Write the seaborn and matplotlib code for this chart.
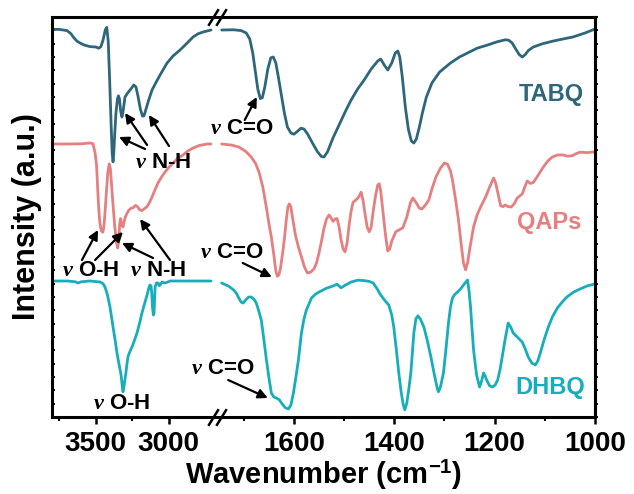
import numpy as np
import pandas as pd
import matplotlib
matplotlib.use("Agg")
import matplotlib.pyplot as plt
from matplotlib.path import Path
from matplotlib.transforms import blended_transform_factory
from matplotlib.ticker import NullFormatter
import seaborn as sns

# ---------------- data ----------------
SAMPLES = ["TABQ", "QAPs", "DHBQ"]
COLORS = ["#2E667A", "#E67F80", "#17AEBB"]

TABQ_WN = [3800, 3750, 3697, 3670, 3650, 3630, 3608, 3580, 3540, 3500, 3480, 3465,
           3450, 3435, 3425, 3415, 3405, 3395, 3388, 3382, 3377, 3370, 3362, 3352,
           3345, 3338, 3330, 3321, 3313, 3300, 3282, 3260, 3240, 3225, 3210, 3195,
           3180, 3170, 3160, 3140, 3115, 3090, 3060, 3012, 2970, 2923, 2880, 2834,
           2800, 2766, 2711,
           1744, 1720, 1705, 1695, 1688, 1682, 1677, 1672, 1667, 1663, 1658, 1652,
           1646, 1641, 1636, 1631, 1625, 1619, 1613, 1606, 1600, 1594, 1586, 1580,
           1573, 1563, 1553, 1545, 1540, 1533, 1522, 1510, 1497, 1486, 1473, 1460,
           1446, 1433, 1427, 1420, 1413, 1405, 1398, 1393, 1389, 1384, 1378, 1372,
           1366, 1361, 1356, 1350, 1344, 1336, 1325, 1310, 1288, 1270, 1254, 1235,
           1214, 1195, 1179, 1172, 1165, 1158, 1151, 1145, 1139, 1133, 1123, 1105,
           1083, 1060, 1044, 1020, 1000]
TABQ_I = [96.9, 96.9, 96.6, 95.8, 94.8, 94.0, 93.5, 93.0, 92.6, 92.5, 92.2, 92.6,
          94.3, 96.8, 97.4, 94.0, 84.0, 73.0, 66.0, 63.8, 66.0, 71.0, 76.0, 79.5,
          80.3, 79.5, 76.5, 75.0, 76.5, 80.0, 81.0, 82.0, 83.0, 82.5, 80.0, 77.0,
          75.2, 75.3, 76.5, 79.0, 81.75, 83.5, 85.5, 88.5, 90.3, 91.75, 93.3, 95.0,
          95.8, 96.25, 96.75,
          96.75, 96.8, 96.6, 96.0, 94.5, 91.0, 86.5, 82.0, 79.6, 79.8, 82.5, 87.0,
          89.8, 90.0, 88.5, 85.0, 80.5, 76.0, 72.5, 71.0, 70.7, 71.3, 72.2, 72.0,
          70.8, 68.5, 66.3, 65.1, 65.0, 66.3, 69.8, 73.0, 76.5, 79.25, 82.0, 84.25,
          87.0, 89.0, 89.5, 88.0, 86.75, 88.5, 91.0, 91.5, 90.0, 85.0, 77.5, 72.0,
          69.0, 68.5, 69.5, 72.5, 76.0, 80.0, 83.5, 86.2, 88.5, 90.0, 91.0, 92.2,
          93.0, 93.8, 94.3, 94.2, 93.5, 92.0, 90.6, 90.0, 90.6, 91.6, 92.5, 93.3,
          94.0, 94.6, 95.0, 96.0, 97.0]

QAPS_WN = [3800, 3700, 3600, 3540, 3519, 3505, 3495, 3487, 3480, 3472, 3462, 3452,
           3445, 3437, 3428, 3418, 3408, 3400, 3392, 3382, 3370, 3358, 3350, 3343,
           3336, 3330, 3323, 3314, 3306, 3298, 3285, 3273, 3258, 3245, 3228, 3215,
           3200, 3184, 3170, 3160, 3149, 3130, 3115, 3095, 3074, 3050, 3026, 3000,
           2971, 2940, 2903, 2870, 2834, 2790, 2738, 2711,
           1744, 1725, 1710, 1697, 1685, 1676, 1669, 1662, 1655, 1650, 1645, 1640,
           1636, 1633, 1630, 1627, 1623, 1619, 1615, 1612, 1609, 1606, 1603, 1597,
           1591, 1585, 1579, 1573, 1567, 1560, 1555, 1550, 1545, 1540, 1535, 1530,
           1526, 1522, 1518, 1514, 1510, 1506, 1502, 1498, 1494, 1490, 1486, 1482,
           1476, 1471, 1466, 1462, 1458, 1454, 1450, 1446, 1442, 1437, 1433, 1430,
           1427, 1424, 1421, 1417, 1413, 1409, 1405, 1397, 1390, 1383, 1375, 1368,
           1363, 1356, 1350, 1345, 1338, 1331, 1325, 1317, 1308, 1300, 1294, 1288,
           1284, 1278, 1272, 1267, 1262, 1258, 1254, 1250, 1242, 1235, 1228, 1218,
           1210, 1202, 1198, 1194, 1188, 1183, 1179, 1173, 1167, 1161, 1155, 1145,
           1140, 1135, 1129, 1123, 1113, 1103, 1094, 1085, 1075, 1063, 1055, 1046,
           1038, 1030, 1015, 1000]
QAPS_I = [68.25, 68.25, 68.3, 68.5, 68.3, 66.0, 63.0, 57.0, 52.0, 48.5, 46.5, 46.2,
          47.5, 51.0, 56.0, 61.0, 63.3, 62.0, 58.0, 53.0, 47.5, 43.5, 42.25, 44.0,
          48.5, 49.6, 48.2, 47.5, 48.8, 50.0, 51.0, 51.75, 52.2, 52.3, 52.9, 52.6,
          51.8, 51.6, 52.0, 52.3, 52.6, 53.8, 55.0, 56.8, 58.5, 60.0, 61.25, 62.4,
          63.5, 64.6, 65.5, 66.5, 67.25, 67.9, 68.25, 68.25,
          68.25, 68.0, 67.5, 66.5, 65.0, 63.3, 61.0, 57.5, 52.5, 48.5, 45.0, 40.5,
          36.5, 35.2, 35.5, 37.0, 40.5, 44.5, 49.5, 52.5, 53.3, 52.5, 50.0, 45.5,
          42.5, 40.0, 37.5, 36.0, 36.2, 37.0, 38.5, 41.0, 44.0, 47.25, 49.5, 50.5,
          49.8, 48.9, 49.5, 49.6, 47.5, 44.3, 42.0, 41.3, 43.5, 48.0, 51.5, 53.7,
          54.3, 55.0, 56.2, 54.0, 50.5, 47.5, 46.3, 47.5, 51.5, 55.5, 58.0, 58.3,
          56.5, 53.0, 49.5, 45.0, 41.5, 42.0, 44.0, 46.3, 46.8, 47.3, 50.0, 53.5,
          54.75, 53.5, 52.2, 52.0, 53.0, 54.3, 57.0, 60.0, 62.2, 63.5, 63.2, 61.5,
          59.2, 54.5, 49.25, 43.5, 38.5, 36.8, 38.5, 41.75, 47.5, 50.5, 52.5, 55.0,
          57.5, 59.75, 58.5, 56.25, 52.8, 52.6, 53.0, 52.6, 52.5, 53.3, 54.75, 55.75,
          57.5, 59.0, 58.4, 58.6, 60.5, 62.5, 64.0, 65.0, 65.5, 65.5, 65.2, 65.3,
          65.8, 66.2, 66.1, 66.3]

DHBQ_WN = [3800, 3697, 3640, 3622, 3600, 3540, 3471, 3450, 3437, 3420, 3403, 3382,
           3368, 3355, 3340, 3327, 3318, 3314, 3308, 3300, 3293, 3286, 3279, 3265,
           3252, 3235, 3218, 3200, 3184, 3165, 3149, 3135, 3129, 3122, 3117, 3112,
           3106, 3101, 3097, 3094, 3085, 3074, 3065, 3060, 3047, 3030, 3010, 2992,
           2900, 2800, 2711,
           1744, 1730, 1720, 1714, 1710, 1705, 1701, 1696, 1690, 1685, 1680, 1675,
           1670, 1665, 1660, 1655, 1650, 1645, 1640, 1635, 1629, 1623, 1617, 1611,
           1606, 1601, 1596, 1591, 1585, 1580, 1575, 1565, 1557, 1549, 1535, 1522,
           1514, 1506, 1497, 1486, 1473, 1460, 1450, 1442, 1435, 1427, 1418, 1411,
           1405, 1401, 1396, 1391, 1386, 1382, 1379, 1375, 1371, 1367, 1364, 1361,
           1357, 1353, 1348, 1341, 1334, 1327, 1320, 1314, 1312, 1308, 1302, 1297,
           1292, 1288, 1284, 1279, 1274, 1268, 1262, 1257, 1254, 1251, 1248, 1245,
           1242, 1236, 1230, 1226, 1222, 1219, 1216, 1210, 1204, 1199, 1194, 1189,
           1185, 1179, 1173, 1168, 1163, 1155, 1145, 1139, 1133, 1126, 1119, 1114,
           1109, 1101, 1093, 1085, 1075, 1065, 1056, 1043, 1030, 1015, 1000]
DHBQ_I = [34.0, 34.0, 33.8, 33.5, 33.8, 34.0, 33.75, 33.3, 32.5, 30.5, 27.5, 22.5,
          19.3, 16.0, 13.0, 10.5, 7.5, 6.3, 7.5, 9.5, 11.3, 13.5, 15.2, 16.5,
          17.5, 19.2, 21.0, 23.5, 26.0, 28.5, 30.5, 32.5, 33.0, 32.8, 31.0, 27.5,
          25.5, 26.0, 30.0, 32.5, 33.5, 33.5, 32.8, 33.0, 33.75, 33.5, 33.7, 34.0,
          34.0, 34.0, 34.0,
          33.5, 32.7, 31.75, 30.8, 29.75, 28.7, 28.5, 29.3, 30.0, 30.0, 29.5, 28.5,
          26.5, 24.25, 19.5, 14.5, 10.0, 6.0, 5.0, 4.75, 4.3, 3.2, 2.3, 2.0,
          3.0, 6.0, 10.0, 14.25, 21.0, 24.5, 26.8, 29.75, 30.7, 31.3, 32.2, 32.75,
          33.2, 32.3, 33.0, 33.75, 34.2, 34.1, 33.9, 33.5, 32.2, 30.5, 29.0, 28.0,
          25.5, 22.5, 17.0, 11.0, 6.0, 3.0, 1.8, 3.5, 7.0, 11.0, 16.0, 21.0,
          24.5, 25.3, 24.5, 22.5, 19.0, 15.0, 10.5, 7.0, 6.3, 7.5, 11.0, 17.0,
          23.5, 27.5, 29.75, 30.7, 31.25, 32.0, 33.0, 33.8, 34.25, 31.5, 27.5, 22.0,
          16.75, 10.5, 7.5, 9.0, 11.0, 10.3, 9.25, 7.8, 7.5, 8.0, 9.25, 12.0,
          15.0, 19.5, 23.5, 22.5, 21.0, 20.0, 18.75, 17.0, 15.0, 13.5, 13.0, 14.0,
          16.0, 19.5, 22.5, 25.0, 27.25, 28.8, 30.0, 31.2, 32.0, 32.8, 33.25]

XTICKS = [3500, 3000, 1600, 1400, 1200, 1000]
XTICK_LABELS = ["3500", "3000", "1600", "1400", "1200", "1000"]
XMINOR = [3750, 3250, 1700, 1500, 1300, 1100]

LABEL_POS = [(1088, 80.5), (1092, 48.75), (1090, 7.5)]

ANNOT_TEXT = [r"$\nu$ N-H", r"$\nu$ C=O", r"$\nu$ O-H", r"$\nu$ N-H",
              r"$\nu$ C=O", r"$\nu$ O-H", r"$\nu$ C=O"]
ANNOT_POS = [(3040, 63.5), (1703, 72.25), (3533, 36.75), (3077, 36.75),
             (1724, 41.25), (3321, 3.5), (1742, 12.25)]
ARROWS = [((3163, 67.0), (3341, 70.0)),
          ((3149, 68.0), (3300, 76.0)),
          ((2999, 67.75), (3136, 75.5)),
          ((1698, 74.25), (1674, 80.0)),
          ((3595, 39.25), (3485, 46.75)),
          ((3505, 39.25), (3314, 46.25)),
          ((3108, 39.75), (3321, 43.5)),
          ((2992, 39.25), (3197, 49.5)),
          ((1702, 38.5), (1644, 35.0)),
          ((1731, 9.25), (1652, 4.75))]

# ---------------- broken-axis scale ----------------
K_LO, K_HI, GAP = 0.5017, 0.146, 6.0
LO_END = (1750 - 1000) * K_LO
HI_START = LO_END + GAP


def fwd(x):
    x = np.asarray(x, dtype=float)
    return np.where(x <= 1750, (x - 1000) * K_LO,
                    np.where(x >= 2700, HI_START + (x - 2700) * K_HI,
                             LO_END + (x - 1750) * GAP / 950.0))


def inv(p):
    p = np.asarray(p, dtype=float)
    return np.where(p <= LO_END, 1000 + p / K_LO,
                    np.where(p >= HI_START, 2700 + (p - HI_START) / K_HI,
                             1750 + (p - LO_END) * 950.0 / GAP))


# ---------------- build data frame ----------------
frames = []
for name, wn, inten in [("TABQ", TABQ_WN, TABQ_I), ("QAPs", QAPS_WN, QAPS_I),
                        ("DHBQ", DHBQ_WN, DHBQ_I)]:
    d = pd.DataFrame({"wn": wn, "I": inten})
    d["sample"] = name
    d["seg"] = np.where(d["wn"] > 2200, "hi", "lo")
    frames.append(d)
df = pd.concat(frames, ignore_index=True)

# ---------------- style ----------------
sns.set_style("ticks")
plt.rcParams["font.family"] = ["Liberation Sans", "DejaVu Sans"]
plt.rcParams["font.weight"] = "bold"
plt.rcParams["mathtext.fontset"] = "custom"
plt.rcParams["mathtext.rm"] = "Liberation Sans"
plt.rcParams["mathtext.bf"] = "Liberation Sans:bold"
plt.rcParams["mathtext.it"] = "Liberation Serif:italic"
for key in ["text.color", "axes.labelcolor", "xtick.color", "ytick.color",
            "axes.edgecolor"]:
    plt.rcParams[key] = "black"

fig = plt.figure(figsize=(6.34, 4.94), dpi=100)
ax = fig.add_axes([52 / 634, 1 - 417 / 494, 543 / 634, 400 / 494])
ax.set_xscale("function", functions=(fwd, inv))

sns.lineplot(data=df, x="wn", y="I", hue="sample", units="seg", estimator=None,
             sort=False, palette=dict(zip(SAMPLES, COLORS)), hue_order=SAMPLES,
             legend=False, lw=2.0, solid_joinstyle="round",
             solid_capstyle="round", ax=ax)

ax.set_xlim(3800, 1000)
ax.set_ylim(0, 100)

ax.set_xticks(XTICKS)
ax.set_xticklabels(XTICK_LABELS)
ax.set_xticks(XMINOR, minor=True)
ax.xaxis.set_minor_formatter(NullFormatter())
ax.tick_params(axis="x", which="major", direction="out", length=5, width=1.8,
               labelsize=20, pad=5, color="black", labelcolor="black")
ax.tick_params(axis="x", which="minor", direction="out", length=3, width=1.5,
               color="black")

yt = np.linspace(0, 100, 31)
ax.set_yticks(yt)
ax.yaxis.set_major_formatter(NullFormatter())
ax.tick_params(axis="y", which="major", direction="in", length=2.5, width=1.3,
               color="black")
sec = ax.secondary_yaxis("right")
sec.set_yticks(yt)
sec.yaxis.set_major_formatter(NullFormatter())
sec.tick_params(axis="y", direction="out", length=2.5, width=1.3, color="black")
sec.spines["right"].set_linewidth(2.2)
sec.spines["right"].set_color("black")

for s in ax.spines.values():
    s.set_linewidth(2.2)
    s.set_color("black")

ax.set_xlabel(r"Wavenumber (cm$^{\mathbf{-1}}$)", fontsize=21, fontweight="bold",
              labelpad=1, color="black")
ax.set_ylabel("Intensity (a.u.)", fontsize=22, fontweight="bold", labelpad=4,
              color="black")

# sample labels
for name, col, (x, y) in zip(SAMPLES, COLORS, LABEL_POS):
    ax.text(x, y, name, color=col, fontsize=17, fontweight="bold",
            ha="center", va="center")

# band annotations
for txt, (x, y) in zip(ANNOT_TEXT, ANNOT_POS):
    ax.text(x, y, txt, fontsize=16, fontweight="bold", ha="center", va="center",
            color="black")
for (tail, tip) in ARROWS:
    ax.annotate("", xy=tip, xytext=tail,
                arrowprops=dict(arrowstyle="-|>", color="black", lw=1.6,
                                mutation_scale=14, shrinkA=0, shrinkB=0))

# axis break marks
slash = Path([(-0.62, -1.0), (0.62, 1.0)], [Path.MOVETO, Path.LINETO])
btr = blended_transform_factory(ax.transData, ax.transAxes)
for yy in (0, 1):
    ax.plot([2700, 1745], [yy, yy], transform=btr, linestyle="none",
            marker=slash, markersize=12, markeredgewidth=1.8,
            color="black", clip_on=False, zorder=5)

fig.savefig("out.png", dpi=100)
